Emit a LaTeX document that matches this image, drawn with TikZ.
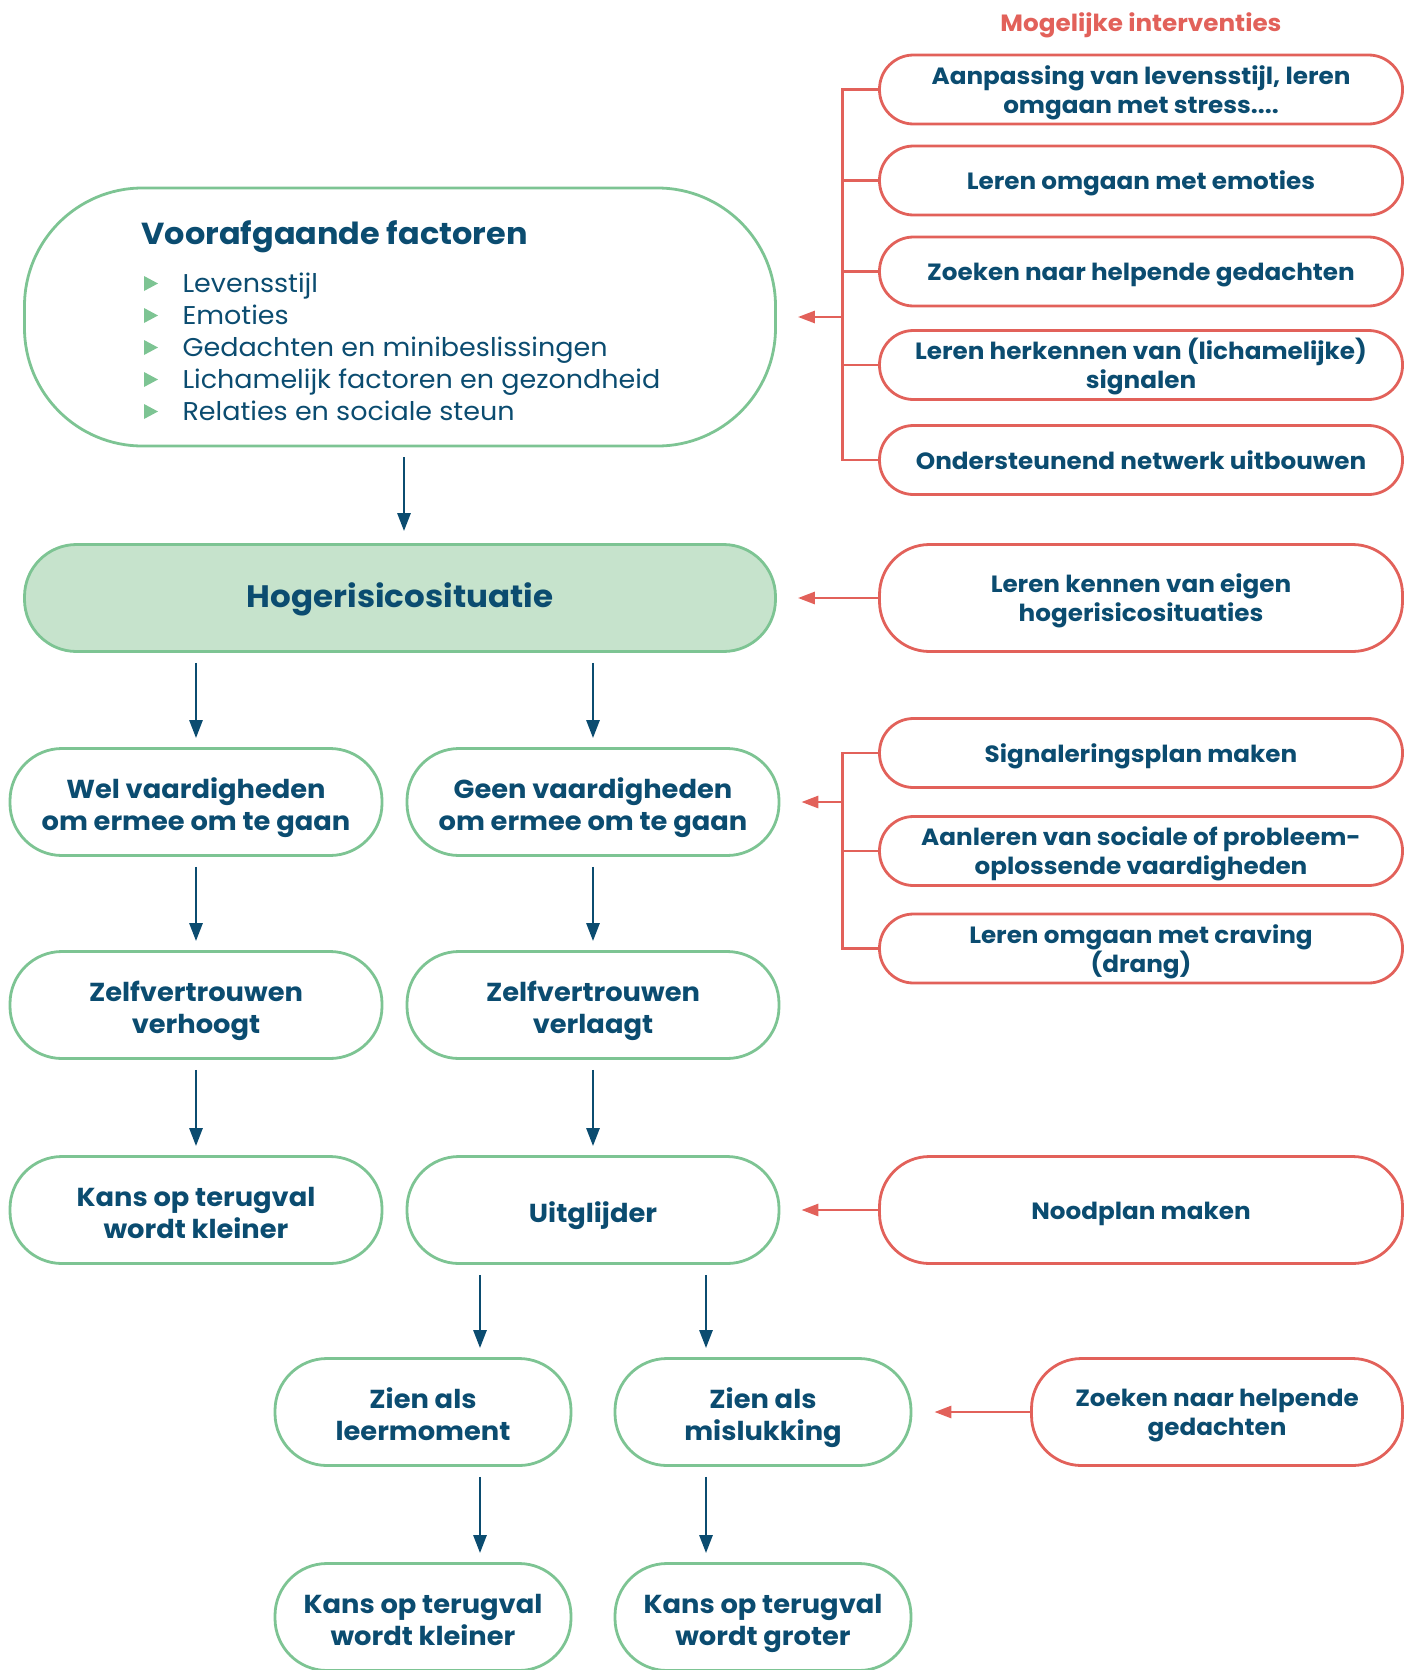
\documentclass[tikz,border=0pt]{standalone}
\usepackage{fontspec}
\setmainfont{Poppins}[FakeStretch=1.05]
\usepackage{xcolor}
\usepackage{tikz}
\usetikzlibrary{arrows.meta}
\definecolor{RPBlue}{HTML}{0B4C70}
\definecolor{RPGreen}{HTML}{7DC493}
\definecolor{RPFill}{HTML}{C6E3CC}
\definecolor{RPRed}{HTML}{E2615A}

\tikzset{
  flowbox/.style={draw=RPGreen,line width=2.8pt,rounded corners=52pt,minimum width=372pt,minimum height=107pt,align=center,text=RPBlue,inner sep=0pt,text height=31pt,text depth=7pt,font=\fontsize{26}{32}\selectfont\bfseries},
  tworow/.style={text height=63pt},
  smallflow/.style={flowbox,minimum width=296pt},
  intbox/.style={draw=RPRed,line width=2.8pt,rounded corners=34pt,minimum width=523pt,minimum height=69pt,align=center,text=RPBlue,inner sep=0pt,text height=24.5pt,text depth=6pt,font=\fontsize{23.5}{28.7}\selectfont\bfseries},
  inttwo/.style={text height=53.2pt},
  flow/.style={draw=RPBlue,line width=2.7pt,-{Triangle[length=18pt,width=13pt]},shorten <=10pt,shorten >=9pt},
  intline/.style={draw=RPRed,line width=2.8pt},
  intarrow/.style={draw=RPRed,line width=2.8pt,-{Triangle[length=17pt,width=12pt]},shorten >=21pt}
}

\begin{document}
\begin{tikzpicture}[x=1pt,y=-1pt]
\path[use as bounding box] (0,0) rectangle (1415,1670);
% voorafgaande factoren
\node[flowbox,rounded corners=118pt,minimum width=751pt,minimum height=258pt] (voor) at (400,317) {};
\node[anchor=base west,text=RPBlue,font=\fontsize{30.4}{36}\selectfont\bfseries] (voortitle) at (138,244) {Voorafgaande factoren};
\fill[RPGreen] (144,276) -- (158,283.5) -- (144,291) -- cycle;
\fill[RPGreen] (144,308) -- (158,315.5) -- (144,323) -- cycle;
\fill[RPGreen] (144,340) -- (158,347.5) -- (144,355) -- cycle;
\fill[RPGreen] (144,372) -- (158,379.5) -- (144,387) -- cycle;
\fill[RPGreen] (144,404) -- (158,411.5) -- (144,419) -- cycle;
\node[anchor=base west,text=RPBlue,font=\fontsize{25.7}{32}\selectfont] (b1) at (179,292) {Levensstijl};
\node[anchor=base west,text=RPBlue,font=\fontsize{25.7}{32}\selectfont] (b2) at (179,324) {Emoties};
\node[anchor=base west,text=RPBlue,font=\fontsize{25.7}{32}\selectfont] (b3) at (179,356) {Gedachten en minibeslissingen};
\node[anchor=base west,text=RPBlue,font=\fontsize{25.7}{32}\selectfont] (b4) at (179,388) {Lichamelijk factoren en gezondheid};
\node[anchor=base west,text=RPBlue,font=\fontsize{25.7}{32}\selectfont] (b5) at (179,420) {Relaties en sociale steun};
% hoofdstroom
\node[flowbox,fill=RPFill,minimum width=751pt,minimum height=107pt,text height=25.6pt,font=\fontsize{31}{36}\selectfont\bfseries] (hrs) at (400,598) {Hogerisicosituatie};
\node[flowbox,tworow] (wel) at (196,802) {Wel vaardigheden\\om ermee om te gaan};
\node[flowbox,tworow] (geen) at (593,802) {Geen vaardigheden\\om ermee om te gaan};
\node[flowbox,tworow] (zhoog) at (196,1005) {Zelfvertrouwen\\verhoogt};
\node[flowbox,tworow] (zlaag) at (593,1005) {Zelfvertrouwen\\verlaagt};
\node[flowbox,tworow] (kans1) at (196,1210) {Kans op terugval\\wordt kleiner};
\node[flowbox] (uit) at (593,1210) {Uitglijder};
\node[smallflow,tworow] (zleer) at (423,1412) {Zien als\\leermoment};
\node[smallflow,tworow] (zmis) at (763,1412) {Zien als\\mislukking};
\node[smallflow,tworow] (kans2) at (423,1617) {Kans op terugval\\wordt kleiner};
\node[smallflow,tworow] (kans3) at (763,1617) {Kans op terugval\\wordt groter};
\draw[flow,shorten >=12pt] ([xshift=4pt]voor.south) -- ([xshift=4pt]hrs.north);
\draw[flow] (wel |- hrs.south) -- (wel);
\draw[flow] (geen |- hrs.south) -- (geen);
\draw[flow] (wel) -- (zhoog);
\draw[flow] (geen) -- (zlaag);
\draw[flow] (zhoog) -- (kans1);
\draw[flow] (zlaag) -- (uit);
\draw[flow] ([xshift=-113pt]uit.south) -- ([xshift=57pt]zleer.north);
\draw[flow] ([xshift=113pt]uit.south) -- ([xshift=-57pt]zmis.north);
\draw[flow] ([xshift=57pt]zleer.south) -- ([xshift=57pt]kans2.north);
\draw[flow] ([xshift=-57pt]zmis.south) -- ([xshift=-57pt]kans3.north);
% mogelijke interventies
\node[text=RPRed,font=\fontsize{23.5}{28}\selectfont\bfseries] (inttitle) at (1141,25) {Mogelijke interventies};
\node[intbox,inttwo] (i1) at (1141,89.5) {Aanpassing van levensstijl, leren\\omgaan met stress....};
\node[intbox] (i2) at (1141,180.5) {Leren omgaan met emoties};
\node[intbox] (i3) at (1141,271.5) {Zoeken naar helpende gedachten};
\node[intbox,inttwo] (i4) at (1141,365) {Leren herkennen van (lichamelijke)\\signalen};
\node[intbox] (i5) at (1141,460) {Ondersteunend netwerk uitbouwen};
\draw[intline] (i1.west) -- ++(-36,0) |- (i5.west);
\draw[intline] (i2.west) -- ++(-36,0);
\draw[intline] (i3.west) -- ++(-36,0);
\draw[intline] (i4.west) -- ++(-36,0);
\coordinate (ta) at (842,317);
\draw[intarrow] (ta) -- (ta -| voor.east);
\node[intbox,inttwo,minimum height=107pt,rounded corners=50pt] (ik) at (1141,598) {Leren kennen van eigen\\hogerisicosituaties};
\draw[intarrow] (ik) -- (hrs);
\node[intbox] (s1) at (1141,753) {Signaleringsplan maken};
\node[intbox,inttwo] (s2) at (1141,851) {Aanleren van sociale of probleem-\\oplossende vaardigheden};
\node[intbox,inttwo] (s3) at (1141,948.5) {Leren omgaan met craving\\(drang)};
\draw[intline] (s1.west) -- ++(-36,0) |- (s3.west);
\draw[intline] (s2.west) -- ++(-36,0);
\coordinate (tb) at (842,802);
\draw[intarrow] (tb) -- (tb -| geen.east);
\node[intbox,minimum height=107pt,rounded corners=50pt] (nood) at (1141,1210) {Noodplan maken};
\draw[intarrow] (nood) -- (uit);
\node[intbox,inttwo,minimum width=371pt,minimum height=107pt,rounded corners=50pt] (zk) at (1217,1412) {Zoeken naar helpende\\gedachten};
\draw[intarrow,shorten >=22pt] (zk) -- (zmis);
\end{tikzpicture}
\end{document}
